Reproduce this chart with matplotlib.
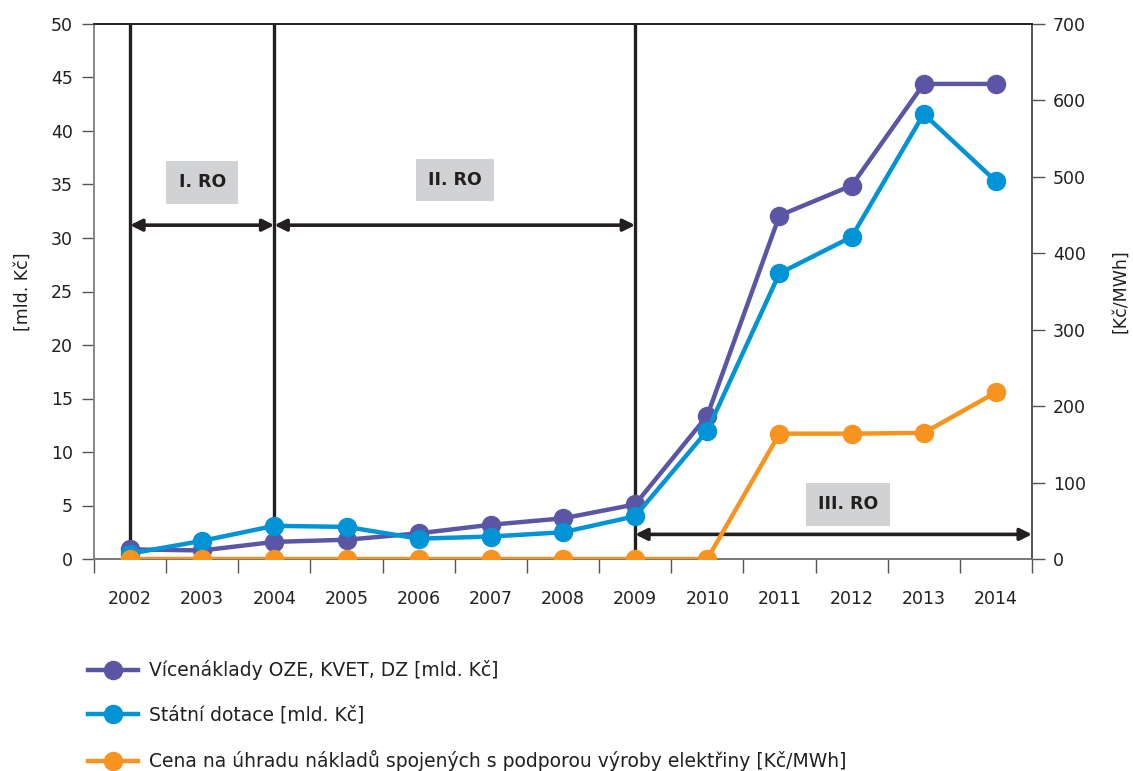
import matplotlib
matplotlib.use("Agg")
import matplotlib.pyplot as plt
from matplotlib.lines import Line2D

years = ["2002", "2003", "2004", "2005", "2006", "2007", "2008",
         "2009", "2010", "2011", "2012", "2013", "2014"]
vicenaklady = [0.9, 0.8, 1.6, 1.8, 2.4, 3.2, 3.8, 5.1, 13.4, 32.1, 34.9, 44.4, 44.4]
dotace = [0.5, 1.7, 3.1, 3.0, 1.9, 2.1, 2.5, 4.0, 12.0, 26.7, 30.1, 41.6, 35.3]
cena = [0, 0, 0, 0, 0, 0, 0, 0, 0, 164, 164, 165, 218]

series_labels = ["Vícenáklady OZE, KVET, DZ [mld. Kč]",
                 "Státní dotace [mld. Kč]",
                 "Cena na úhradu nákladů spojených s podporou výroby elektřiny [Kč/MWh]"]
period_labels = ["I. RO", "II. RO", "III. RO"]
period_bounds = [(0, 2), (2, 7), (7, 12.5)]
period_arrow_y = [31.2, 31.2, 2.3]
period_label_pos = [(1.0, 35.2), (4.5, 35.4), (9.95, 5.1)]
vlines_at = [0, 2, 7]

purple = "#5a56a5"
blue = "#0093d6"
orange = "#f7931e"
dark = "#231f20"

plt.rcParams['font.family'] = ['DejaVu Sans']

fig = plt.figure(figsize=(11.33, 7.71), dpi=100)
ax = fig.add_axes([94/1133, 1 - 559/771, (1032-94)/1133, (559-24)/771])
ax2 = ax.twinx()

x = list(range(len(years)))

for xv in vlines_at:
    ax.plot([xv, xv], [0, 50], color=dark, lw=2.4, zorder=2, solid_capstyle='butt')

ax.plot(x, vicenaklady, color=purple, lw=3.2, marker='o', ms=13, zorder=4)
ax.plot(x, dotace, color=blue, lw=3.2, marker='o', ms=13, zorder=5)
ax2.plot(x, cena, color=orange, lw=3.2, marker='o', ms=13, zorder=6)

ax.set_xlim(-0.5, 12.5)
ax.set_ylim(0, 50)
ax2.set_ylim(0, 700)

ax.set_yticks(range(0, 51, 5))
ax2.set_yticks(range(0, 701, 100))
ax.set_xticks([i - 0.5 for i in range(14)])
ax.set_xticklabels([])
ax.set_xticks(x, minor=True)
ax.set_xticklabels(years, minor=True)
ax.tick_params(axis='x', which='major', length=10, width=1, color='#555555', direction='out')
ax.tick_params(axis='x', which='minor', length=0, pad=22, labelsize=12.5, labelcolor='#231f20')
ax.tick_params(axis='y', length=9, width=1, color='#555555', labelsize=12.5, labelcolor='#231f20', pad=6)
ax2.tick_params(axis='y', length=9, width=1, color='#555555', labelsize=12.5, labelcolor='#231f20', pad=6)

for a in (ax, ax2):
    a.spines['left'].set_color('#888888')
    a.spines['right'].set_color('#555555')
    a.spines['bottom'].set_color('#777777')
    a.spines['top'].set_color('#231f20')
    for s in a.spines.values():
        s.set_linewidth(1.2)

ax.set_ylabel("[mld. Kč]", fontsize=12.5, color='#231f20', labelpad=14)
ax2.set_ylabel("[Kč/MWh]", fontsize=12.5, color='#231f20', labelpad=18)

for (x0, x1), yv in zip(period_bounds, period_arrow_y):
    ax.annotate("", xy=(x1, yv), xytext=(x0, yv),
                arrowprops=dict(arrowstyle='<|-|>,head_length=0.7,head_width=0.35',
                                color=dark, lw=2.6, shrinkA=0, shrinkB=0),
                zorder=3)

for lab, (px, py) in zip(period_labels, period_label_pos):
    ax.text(px, py, lab, ha='center', va='center', fontsize=12.5, fontweight='bold',
            color='#231f20', zorder=3,
            bbox=dict(boxstyle='square,pad=0.7', facecolor='#d1d2d4', edgecolor='none'))

handles = [Line2D([], [], color=c, lw=3.2, marker='o', ms=13) for c in (purple, blue, orange)]
fig.legend(handles, series_labels, loc='upper left', bbox_to_anchor=(80/1133, 1 - 653/771),
           frameon=False, fontsize=13.5, handlelength=2.7, labelspacing=1.35,
           handletextpad=0.6, labelcolor='#231f20', borderaxespad=0)

fig.savefig("out.png", dpi=100)
